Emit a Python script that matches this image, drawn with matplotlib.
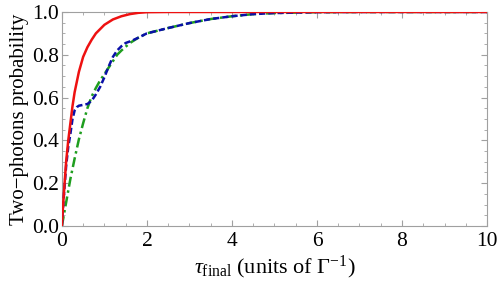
import matplotlib
matplotlib.use("Agg")
import matplotlib.pyplot as plt
from matplotlib.ticker import MultipleLocator

plt.rcParams['font.family'] = ['Liberation Serif', 'DejaVu Serif']
plt.rcParams['mathtext.fontset'] = 'custom'
plt.rcParams['mathtext.rm'] = 'Liberation Serif'
plt.rcParams['mathtext.it'] = 'Liberation Serif:italic'

# Red solid curve
t_red = [0, 0.02, 0.05, 0.1, 0.15, 0.2, 0.25, 0.3, 0.4, 0.5, 0.6, 0.7, 0.8,
         1.0, 1.2, 1.4, 1.6, 1.8, 2.0, 2.5, 3, 10]
p_red = [0, 0.07, 0.16, 0.30, 0.40, 0.48, 0.56, 0.625, 0.72, 0.79, 0.835, 0.87, 0.90,
         0.94, 0.965, 0.98, 0.99, 0.996, 0.999, 1.0, 1.0, 1.0]

# Blue dashed curve
t_blue = [0, 0.05, 0.1, 0.15, 0.2, 0.25, 0.3, 0.35, 0.4, 0.5, 0.6, 0.7, 0.8, 0.9,
          1.0, 1.1, 1.2, 1.3, 1.4, 1.5, 1.65, 1.8, 2.0, 2.5, 3.0, 3.5, 4.0, 4.5,
          5.0, 6.0, 7.0, 10]
p_blue = [0, 0.15, 0.28, 0.37, 0.43, 0.50, 0.54, 0.555, 0.562, 0.566, 0.57, 0.585,
          0.615, 0.65, 0.695, 0.745, 0.79, 0.82, 0.84, 0.855, 0.866, 0.88, 0.90,
          0.925, 0.948, 0.967, 0.98, 0.99, 0.995, 0.999, 1.0, 1.0]

# Green dash-dot curve
t_green = [0, 0.1, 0.2, 0.3, 0.4, 0.5, 0.6, 0.7, 0.8, 0.9, 1.0, 1.1, 1.2, 1.3,
           1.4, 1.6, 1.8, 2.0, 2.5, 3.0, 3.5, 4.0, 4.5, 5.0, 6.0, 7.0, 10]
p_green = [0, 0.11, 0.22, 0.315, 0.405, 0.48, 0.55, 0.605, 0.645, 0.68, 0.71,
           0.74, 0.77, 0.80, 0.82, 0.855, 0.88, 0.90, 0.925, 0.948, 0.967, 0.98,
           0.99, 0.995, 0.999, 1.0, 1.0]

fig = plt.figure(figsize=(4.99, 2.85), dpi=100)
ax = fig.add_axes([0.124, 0.207, 0.852, 0.751])

ax.plot(t_green, p_green, color='#1f9e1f', lw=1.8, dashes=(4, 1.5, 1, 1.5), zorder=2)
ax.plot(t_blue, p_blue, color='#0a10a8', lw=1.8, dashes=(2.5, 1.2), zorder=3)
ax.plot(t_red, p_red, color='#ee1111', lw=1.8, zorder=4)

ax.set_xlim(0, 10)
ax.set_ylim(0, 1.0)
ax.xaxis.set_major_locator(MultipleLocator(2))
ax.xaxis.set_minor_locator(MultipleLocator(0.5))
ax.yaxis.set_major_locator(MultipleLocator(0.2))
ax.yaxis.set_minor_locator(MultipleLocator(0.05))
ax.xaxis.set_major_formatter(plt.FuncFormatter(lambda v, p: f"{v:.0f}"))
ax.yaxis.set_major_formatter(plt.FuncFormatter(lambda v, p: f"{v:.1f}"))

for s in ax.spines.values():
    s.set_color('#a0a0a0')
    s.set_linewidth(0.8)
ax.tick_params(which='both', direction='in', top=True, right=True,
               color='#a0a0a0', labelsize=15.5)
ax.tick_params(axis='x', which='both', pad=4.5)
ax.tick_params(axis='y', which='both', pad=2)
ax.tick_params(which='major', length=4, width=0.8)
ax.tick_params(which='minor', length=2.2, width=0.6)

ax.set_xlabel(r'$\tau_{\mathrm{final}}$ (units of $\Gamma^{-1}$)', fontsize=16, labelpad=2)
ax.set_ylabel('Two\u2212photons probability', fontsize=15, labelpad=2)

fig.savefig('out.png', dpi=100)
